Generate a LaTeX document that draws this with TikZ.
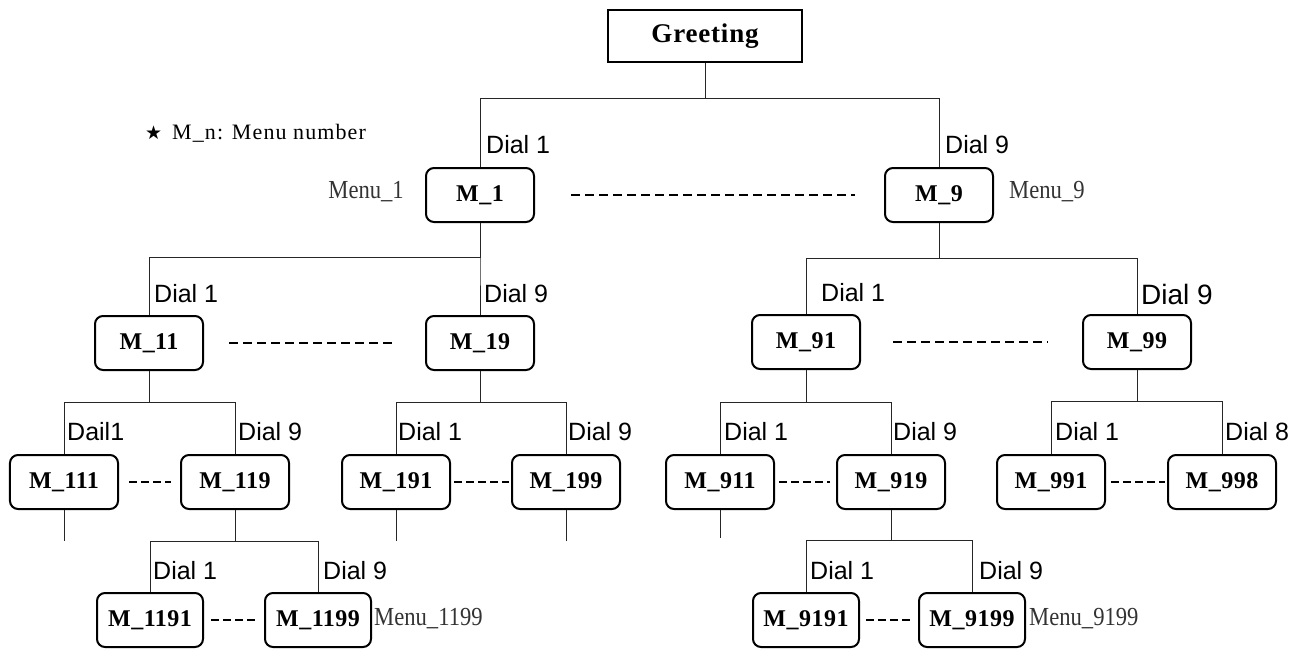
\documentclass[tikz,border=0pt]{standalone}
\usepackage{fontspec}
\setmainfont{Liberation Serif}
\newfontfamily\boxfont[LetterSpace=2]{Liberation Serif}
\newfontfamily\greetfont[LetterSpace=3]{Liberation Serif}
\newfontfamily\dialfont{Liberation Sans}
\newfontfamily\menufont[FakeStretch=0.87]{Liberation Serif}
\newfontfamily\legendfont[LetterSpace=5]{Liberation Serif}
\newfontfamily\symfont{DejaVu Sans}
\tikzset{
  mbox/.style={draw, line width=2bp, rounded corners=8bp, minimum width=108bp, minimum height=54bp, inner sep=0pt,
    font={\boxfont\bfseries\fontsize{24bp}{28bp}\selectfont}},
  sbox/.style={mbox, minimum width=106bp},
  gbox/.style={draw, line width=2bp, minimum width=194bp, minimum height=52bp, inner sep=0pt,
    font={\greetfont\bfseries\fontsize{27bp}{32bp}\selectfont}},
  conn/.style={line width=1bp, draw=black!85},
  dashln/.style={line width=1.3bp, dash pattern=on 9bp off 5bp},
  sdashln/.style={line width=1.3bp, dash pattern=on 8bp off 4bp},
  diallbl/.style={anchor=west, inner sep=0pt, font={\dialfont\fontsize{25bp}{30bp}\selectfont}},
  biglbl/.style={anchor=west, inner sep=0pt, font={\dialfont\fontsize{28bp}{32bp}\selectfont}},
  menulbl/.style={inner sep=0pt, text=black!80, font={\menufont\fontsize{26bp}{30bp}\selectfont}},
  legend/.style={anchor=west, inner sep=0pt, font={\legendfont\fontsize{22bp}{26bp}\selectfont}}
}
\newcommand{\branch}[3]{\draw[conn] (#1.south) -- (#1.south |- 0,#3) -| (#2.north);}
\begin{document}
\begin{tikzpicture}[x=1bp,y=-1bp]
\useasboundingbox (0,0) rectangle (1303,649);
% nodes
\node[gbox] (G) at (705,36) {Greeting};
\node[mbox] (M1) at (480,195) {M\_1};
\node[mbox] (M9) at (939,195) {M\_9};
\node[mbox] (M11) at (149,343) {M\_11};
\node[mbox] (M19) at (480,343) {M\_19};
\node[mbox] (M91) at (806,342) {M\_91};
\node[mbox] (M99) at (1137,342) {M\_99};
\node[mbox] (M111) at (64,482) {M\_111};
\node[mbox] (M119) at (235,482) {M\_119};
\node[mbox] (M191) at (396,482) {M\_191};
\node[mbox] (M199) at (566,482) {M\_199};
\node[mbox] (M911) at (720,482) {M\_911};
\node[mbox] (M919) at (891,482) {M\_919};
\node[mbox] (M991) at (1051,482) {M\_991};
\node[mbox] (M998) at (1222,482) {M\_998};
\node[sbox] (M1191) at (150,620) {M\_1191};
\node[sbox] (M1199) at (318,620) {M\_1199};
\node[sbox] (M9191) at (806,620) {M\_9191};
\node[sbox] (M9199) at (972,620) {M\_9199};
% tree connectors
\branch{G}{M1}{99}
\branch{G}{M9}{99}
\branch{M1}{M11}{257}
\branch{M1}{M19}{257}
\branch{M9}{M91}{258}
\branch{M9}{M99}{258}
\branch{M11}{M111}{402}
\branch{M11}{M119}{402}
\branch{M19}{M191}{402}
\branch{M19}{M199}{402}
\branch{M91}{M911}{402}
\branch{M91}{M919}{402}
\branch{M99}{M991}{401}
\branch{M99}{M998}{401}
\branch{M119}{M1191}{541}
\branch{M119}{M1199}{541}
\branch{M919}{M9191}{540}
\branch{M919}{M9199}{540}
% stubs
\coordinate (s111) at (64,541);
\coordinate (s191) at (396,541);
\coordinate (s199) at (566,541);
\coordinate (s911) at (720,538);
\draw[conn] (M111.south) -- (s111);
\draw[conn] (M191.south) -- (s191);
\draw[conn] (M199.south) -- (s199);
\draw[conn] (M911.south) -- (s911);
% dashed links
\draw[dashln] ([xshift=36bp]M1.east) -- ([xshift=-29bp]M9.west);
\draw[dashln] ([xshift=25bp]M11.east) -- ([xshift=-29bp]M19.west);
\draw[dashln] ([xshift=32bp]M91.east) -- ([xshift=-34bp]M99.west);
\draw[sdashln] ([xshift=10bp]M111.east) -- ([xshift=-9bp]M119.west);
\draw[sdashln] ([xshift=3bp]M191.east) -- ([xshift=-2bp]M199.west);
\draw[sdashln] ([xshift=4bp]M911.east) -- ([xshift=-6bp]M919.west);
\draw[sdashln] ([xshift=5bp]M991.east) -- ([xshift=-2bp]M998.west);
\draw[sdashln] ([xshift=7bp]M1191.east) -- ([xshift=-9bp]M1199.west);
\draw[sdashln] ([xshift=6bp]M9191.east) -- ([xshift=-8bp]M9199.west);
% dial labels
\node[diallbl] (d1) at (486,145) {Dial 1};
\node[diallbl] (d9) at (945,145) {Dial 9};
\node[diallbl] (d11) at (154,294) {Dial 1};
\node[diallbl] (d19) at (484,294) {Dial 9};
\node[diallbl] (d91) at (821,293) {Dial 1};
\node[biglbl] (d99) at (1141,294) {Dial 9};
\node[diallbl] (d111) at (67,432) {Dail1};
\node[diallbl] (d119) at (238,432) {Dial 9};
\node[diallbl] (d191) at (398,432) {Dial 1};
\node[diallbl] (d199) at (568,432) {Dial 9};
\node[diallbl] (d911) at (724,432) {Dial 1};
\node[diallbl] (d919) at (893,432) {Dial 9};
\node[diallbl] (d991) at (1055,432) {Dial 1};
\node[diallbl] (d998) at (1225,432) {Dial 8};
\node[diallbl] (d1191) at (153,571) {Dial 1};
\node[diallbl] (d1199) at (323,571) {Dial 9};
\node[diallbl] (d9191) at (810,571) {Dial 1};
\node[diallbl] (d9199) at (979,571) {Dial 9};
% menu labels
\node[menulbl, anchor=east] (n1) at (404,192) {Menu\_1};
\node[menulbl, anchor=west] (n9) at (1009,192) {Menu\_9};
\node[menulbl, anchor=west] (n1199) at (374,619) {Menu\_1199};
\node[menulbl, anchor=west] (n9199) at (1029,619) {Menu\_9199};
% legend
\node[anchor=west, inner sep=0pt, font={\symfont\fontsize{19bp}{22bp}\selectfont}] (star) at (145,133) {★};
\node[legend] (leg) at (172,133) {M\_n: Menu number};
\end{tikzpicture}
\end{document}
